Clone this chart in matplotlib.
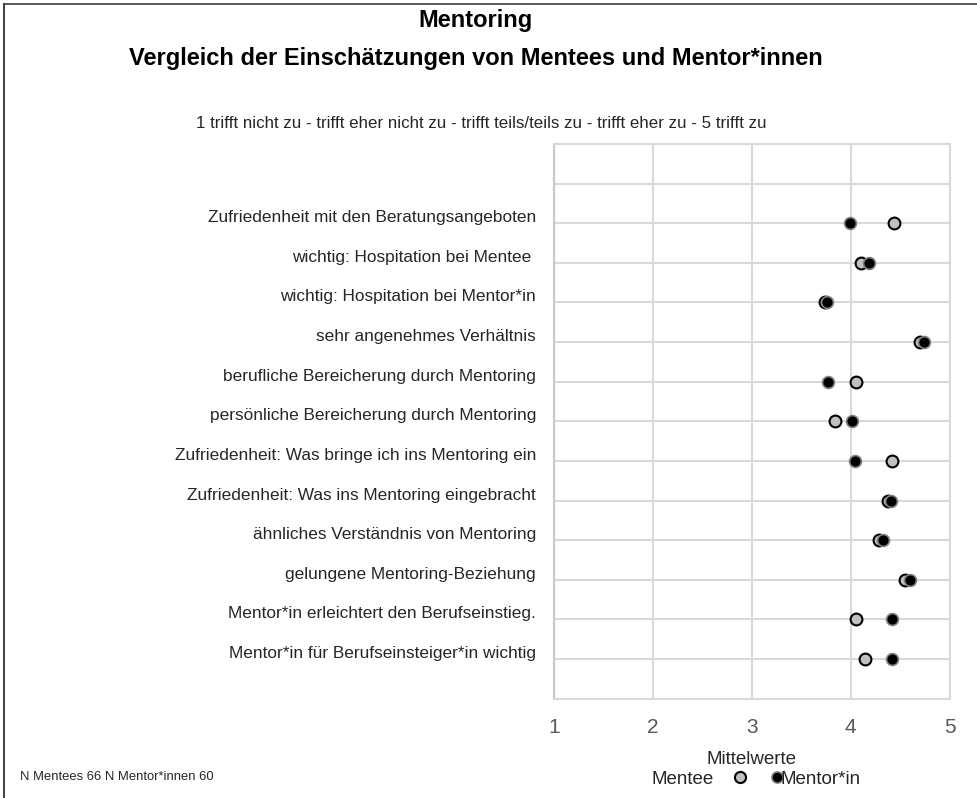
import matplotlib
matplotlib.use("Agg")
import matplotlib.pyplot as plt
from matplotlib.transforms import ScaledTranslation
from matplotlib.lines import Line2D

plt.rcParams['font.family'] = ['Liberation Sans', 'DejaVu Sans']

categories = [
    "Zufriedenheit mit den Beratungsangeboten",
    "wichtig: Hospitation bei Mentee ",
    "wichtig: Hospitation bei Mentor*in",
    "sehr angenehmes Verhältnis",
    "berufliche Bereicherung durch Mentoring",
    "persönliche Bereicherung durch Mentoring",
    "Zufriedenheit: Was bringe ich ins Mentoring ein",
    "Zufriedenheit: Was ins Mentoring eingebracht",
    "ähnliches Verständnis von Mentoring",
    "gelungene Mentoring-Beziehung",
    "Mentor*in erleichtert den Berufseinstieg.",
    "Mentor*in für Berufseinsteiger*in wichtig",
]
mentee = [4.44, 4.10, 3.74, 4.70, 4.05, 3.84, 4.42, 4.38, 4.29, 4.55, 4.05, 4.15]
mentor = [3.99, 4.19, 3.76, 4.74, 3.77, 4.01, 4.04, 4.41, 4.33, 4.60, 4.42, 4.42]
xticks = [1, 2, 3, 4, 5]

W, H = 978, 798
fig = plt.figure(figsize=(W / 100, H / 100), dpi=100)

# outer chart border (top and left edges visible)
fig.lines.append(Line2D([4 / W, 1.0], [1 - 3.5 / H, 1 - 3.5 / H], transform=fig.transFigure,
                        color='#595959', linewidth=1.4))
fig.lines.append(Line2D([4 / W, 4 / W], [0.0, 1 - 3.5 / H], transform=fig.transFigure,
                        color='#404040', linewidth=1.4))

left, right, top, bottom = 554, 949.5, 144, 698.6
ax = fig.add_axes([left / W, 1 - bottom / H, (right - left) / W, (bottom - top) / H])

n = len(categories)
ypos = list(range(n, 0, -1))

ax.plot(mentee, ypos, linestyle='none', marker='o', markersize=8.5,
        markerfacecolor='#c0c0c0', markeredgecolor='black', markeredgewidth=1.5,
        label='Mentee', zorder=3)
ax.plot(mentor, ypos, linestyle='none', marker='o', markersize=8.5,
        markerfacecolor='black', markeredgecolor='#808080', markeredgewidth=1.2,
        label='Mentor*in', zorder=4)

ax.set_xlim(1, 5)
ax.set_ylim(0, 14)
ax.set_xticks(xticks)
ax.set_xticklabels([str(t) for t in xticks])
ax.set_yticks(ypos)
ax.set_yticklabels(categories)
ax.set_yticks([0, 13, 14], minor=True)
ax.grid(True, which='both', color='#d9d9d9', linewidth=1.5)
ax.set_axisbelow(True)
for s in ax.spines.values():
    s.set_color('#d9d9d9')
    s.set_linewidth(1.5)
ax.spines['left'].set_color('#c8c8c8')
ax.tick_params(axis='both', which='both', length=0)
ax.tick_params(axis='x', labelsize=15, labelcolor='#595959', pad=14)
ax.tick_params(axis='y', labelsize=12.4, labelcolor='#262626', pad=13)
for lab in ax.get_yticklabels():
    lab.set_transform(lab.get_transform() + ScaledTranslation(0, 7 / 100, fig.dpi_scale_trans))

fig.text(476 / W, 1 - 21 / H, "Mentoring", ha='center', va='center',
         fontsize=17, fontweight='bold', color='black')
fig.text(476 / W, 1 - 59 / H, "Vergleich der Einschätzungen von Mentees und Mentor*innen",
         ha='center', va='center', fontsize=17, fontweight='bold', color='black')
fig.text(481 / W, 1 - 123 / H,
         "1 trifft nicht zu - trifft eher nicht zu - trifft teils/teils zu - trifft eher zu - 5 trifft zu",
         ha='center', va='center', fontsize=12.15, color='#262626')
fig.text(20 / W, 1 - 777 / H, "N Mentees 66 N Mentor*innen 60", ha='left', va='center',
         fontsize=9.4, color='#262626')

fig.text(752 / W, 1 - 759 / H, "Mittelwerte", ha='center', va='center',
         fontsize=13.5, color='#262626')
h_mentee = Line2D([], [], linestyle='none', marker='o', markersize=8,
                  markerfacecolor='#c0c0c0', markeredgecolor='black', markeredgewidth=1.5)
h_mentor = Line2D([], [], linestyle='none', marker='o', markersize=8,
                  markerfacecolor='black', markeredgecolor='#808080', markeredgewidth=1.2)
leg1 = fig.legend([h_mentee], ['Mentee'], loc='center right', markerfirst=False,
                  bbox_to_anchor=(749.5 / W, 1 - 779 / H), frameon=False,
                  fontsize=13.5, handlelength=1.0, handletextpad=0.9, borderpad=0,
                  borderaxespad=0, labelcolor='#262626')
leg2 = fig.legend([h_mentor], ['Mentor*in'], loc='center left', markerfirst=True,
                  bbox_to_anchor=(770 / W, 1 - 779 / H), frameon=False,
                  fontsize=13.5, handlelength=0.75, handletextpad=-0.2, borderpad=0,
                  borderaxespad=0, labelcolor='#262626')

fig.savefig("out.png", dpi=100)
